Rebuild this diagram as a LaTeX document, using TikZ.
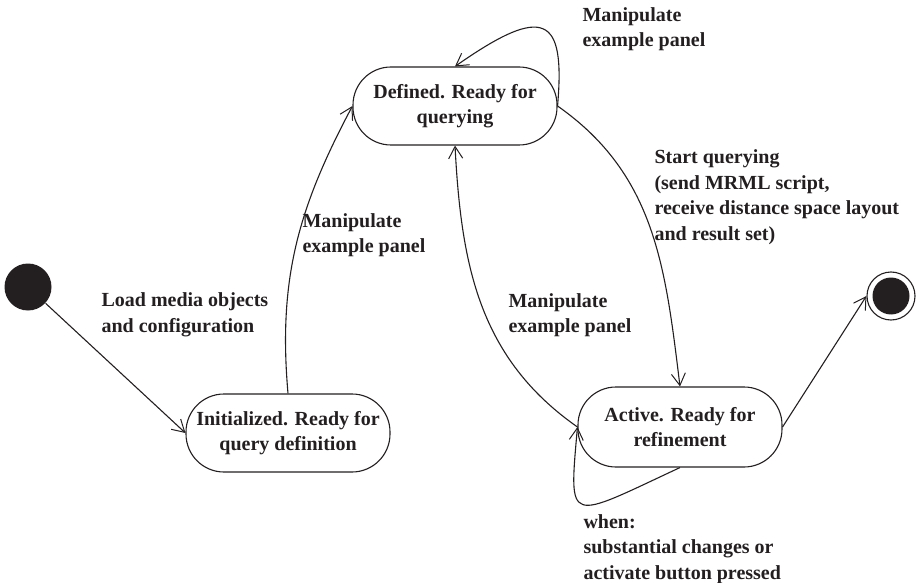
\documentclass[tikz,border=0pt]{standalone}
\usepackage{fontspec}
\setmainfont{Liberation Serif}
\usetikzlibrary{arrows.meta}
\definecolor{ink}{RGB}{35,31,32}

\begin{document}
\begin{tikzpicture}[x=1pt,y=1pt,line width=1.1pt,color=ink,
  >={Straight Barb[length=12pt,width=14pt,line width=1pt]},
  state/.style={shape=rectangle,draw,rounded corners=38pt,minimum width=204pt,
    minimum height=78pt,align=center,inner sep=0pt},
  lbl/.style={align=left,anchor=west,inner sep=0pt},
  every node/.style={font=\fontsize{20}{25.5}\selectfont\bfseries}]
\useasboundingbox (0,0) rectangle (922,-583);
\node (init) at (28,-287) [shape=circle,fill,minimum size=47pt,inner sep=0pt] {};
\node (fin) at (891,-296) [shape=circle,draw,minimum size=48pt,inner sep=0pt] {};
\node (fin-in) at (fin) [shape=circle,fill,minimum size=37pt,inner sep=0pt] {};
\node (initd) at (288,-433) [state] {Initialized. Ready for\\query definition};
\node  (defd) at (455,-106) [state] {Defined. Ready for\\querying};
\node  (actd) at (680,-427) [state,minimum height=80pt] {Active. Ready for\\refinement};
\node (l-load) at (101,-315) [lbl] {Load media objects\\and configuration};
\node (l-man1) at (302,-235) [lbl] {Manipulate\\example panel};
\node (l-man2) at (582,-29) [lbl] {Manipulate\\example panel};
\node (l-man3) at (508,-315) [lbl] {Manipulate\\example panel};
\node (l-start) at (654,-197) [lbl] {Start querying\\(send MRML script,\\receive distance space layout\\and result set)};
\node (l-when) at (583,-549) [lbl] {when:\\substantial changes or\\activate button pressed};
\draw [->] (init) -- (initd.west);
\draw [->] (initd.north) to[out=95,in=-118] (defd.west);
\draw [->] (defd.east) .. controls +(85:90) and +(35:110) .. (defd.north);
\draw [->] (defd.east) to[out=-35,in=97] (actd.north);
\draw [->] (actd.west) to[out=145,in=-87] (defd.south);
\draw [->] (actd.south) .. controls +(-155:125) and +(-95:100) .. (actd.west);
\draw [->] (actd.east) -- (fin.west);
\end{tikzpicture}
\end{document}
